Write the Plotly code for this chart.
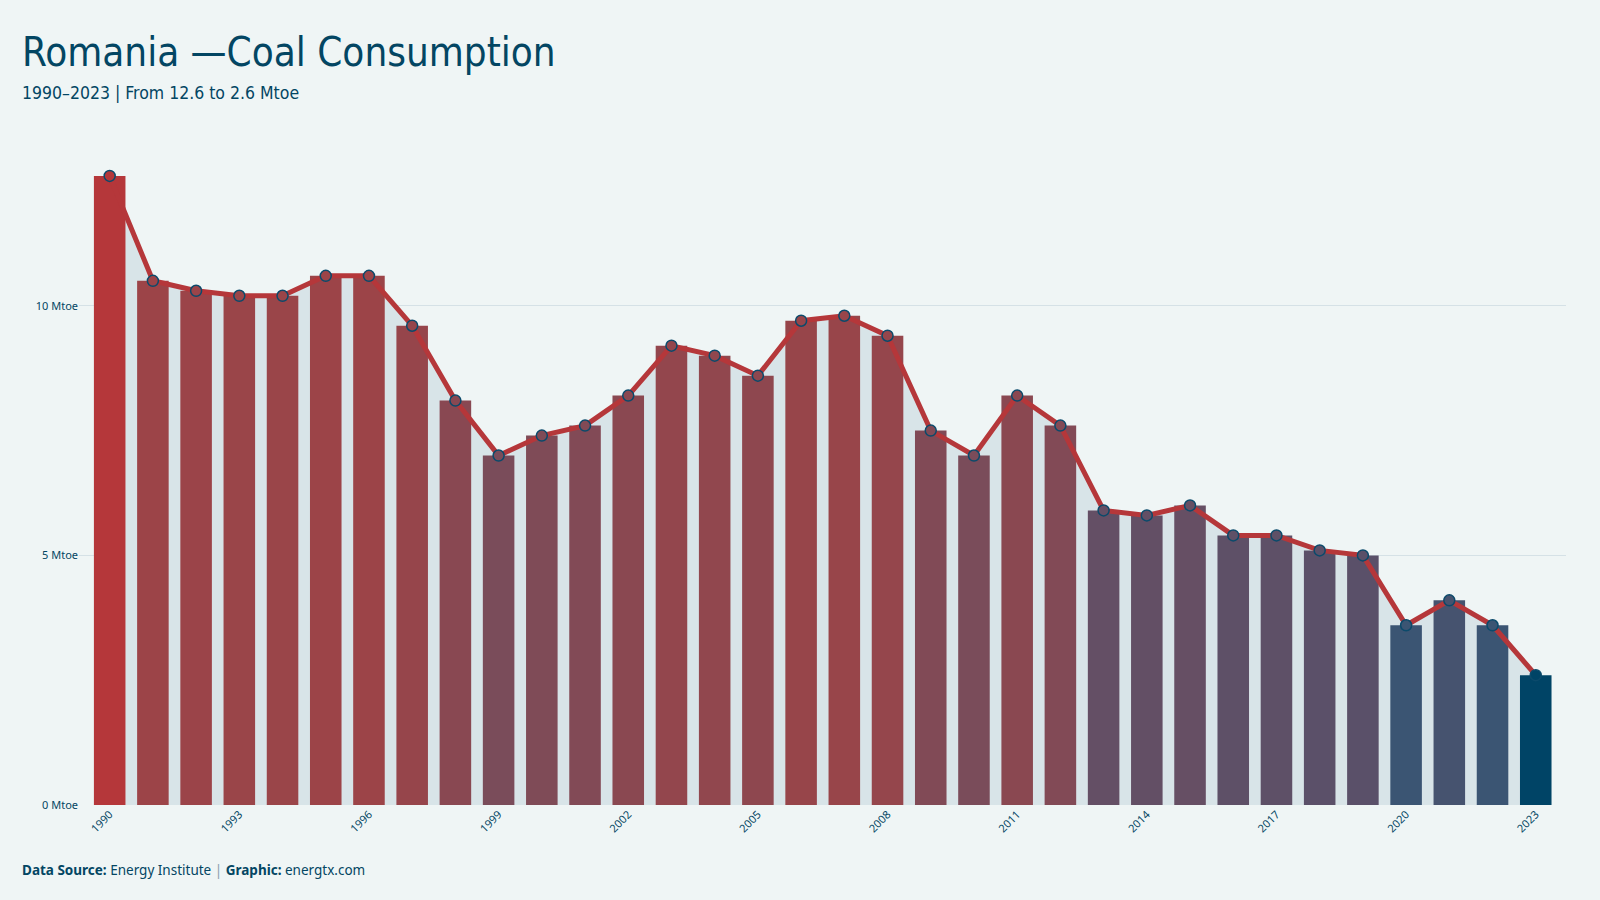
import plotly.graph_objects as go

years = list(range(1990, 2024))
consumption = [12.6, 10.5, 10.3, 10.2, 10.2, 10.6, 10.6, 9.6, 8.1, 7.0,
               7.4, 7.6, 8.2, 9.2, 9.0, 8.6, 9.7, 9.8, 9.4, 7.5,
               7.0, 8.2, 7.6, 5.9, 5.8, 6.0, 5.4, 5.4, 5.1, 5.0,
               3.6, 4.1, 3.6, 2.6]
x_ticks = list(range(1990, 2024, 3))
y_ticks = [0, 5, 10]
y_tick_labels = ["0 Mtoe", "5 Mtoe", "10 Mtoe"]

BG = "#eff5f5"
DARK = "#034663"
RED = "#b5373a"
AREA = "#d8e4e8"
cmin, cmax = min(consumption), max(consumption)
colorscale = [[0, "#004466"], [0.1, "#3b5573"], [0.24, "#5a5069"], [0.33, "#644f65"],
              [0.44, "#7a4c5a"], [0.56, "#8a4851"], [0.72, "#98454a"], [0.8, "#9c4448"],
              [1, RED]]
TITLE_FONT = "Ubuntu Condensed, Liberation Sans Narrow, DejaVu Sans Condensed, Roboto Condensed, sans-serif"

fig = go.Figure()
fig.add_trace(go.Scatter(x=years, y=consumption, mode="lines", line=dict(width=0, color=AREA),
                         fill="tozeroy", fillcolor=AREA, hoverinfo="skip", showlegend=False,
                         xaxis="x", yaxis="y"))
fig.add_trace(go.Bar(x=years, y=consumption, width=0.73, showlegend=False,
                     marker=dict(color=consumption, colorscale=colorscale, cmin=cmin, cmax=cmax,
                                 line=dict(width=0)),
                     xaxis="x", yaxis="y2"))
fig.add_trace(go.Scatter(x=years, y=consumption, mode="lines+markers", showlegend=False,
                         line=dict(color=RED, width=5),
                         marker=dict(size=11, color=consumption, colorscale=colorscale,
                                     cmin=cmin, cmax=cmax, line=dict(color="#0b4a6b", width=1.5)),
                         xaxis="x", yaxis="y2"))

yr = [0, 13.2]
fig.update_layout(
    width=1600, height=900, paper_bgcolor=BG, plot_bgcolor=BG,
    margin=dict(l=79, r=34, t=146, b=95),
    font=dict(family="Ubuntu, Noto Sans, sans-serif", color=DARK),
    xaxis=dict(range=[1989.29, 2023.7], tickvals=x_ticks, ticktext=[str(v) for v in x_ticks],
               tickangle=-45, showgrid=False, zeroline=False, showline=False,
               tickfont=dict(size=11, color=DARK, family="Noto Sans, sans-serif")),
    yaxis=dict(range=yr, tickvals=y_ticks, ticktext=y_tick_labels, showgrid=True,
               gridcolor="#d5e1e6", gridwidth=1.2, zeroline=False, showline=False,
               tickfont=dict(size=11, color=DARK, family="Noto Sans, sans-serif")),
    yaxis2=dict(range=yr, overlaying="y", anchor="x", visible=False, showgrid=False),
    bargap=0.27,
    annotations=[
        dict(text="Romania —Coal Consumption", xref="paper", yref="paper",
             x=(20 - 79) / 1487, y=(805 - 77) / 659, xanchor="left", yanchor="bottom",
             showarrow=False,
             font=dict(size=40, color=DARK, family=TITLE_FONT)),
        dict(text="1990–2023 | From 12.6 to 2.6 Mtoe", xref="paper", yref="paper",
             x=(20 - 79) / 1487, y=(805 - 93) / 659, xanchor="left", yanchor="middle",
             showarrow=False,
             font=dict(size=17.5, color=DARK, family=TITLE_FONT)),
        dict(text="<b>Data Source:</b> Energy Institute <span style='color:#8aa0ad'>|</span> <b>Graphic:</b> energtx.com",
             xref="paper", yref="paper",
             x=(20 - 79) / 1487, y=(805 - 870) / 659, xanchor="left", yanchor="middle",
             showarrow=False, font=dict(size=13.5, color=DARK, family="Noto Sans, sans-serif")),
    ],
)

fig.write_html("out.html")
